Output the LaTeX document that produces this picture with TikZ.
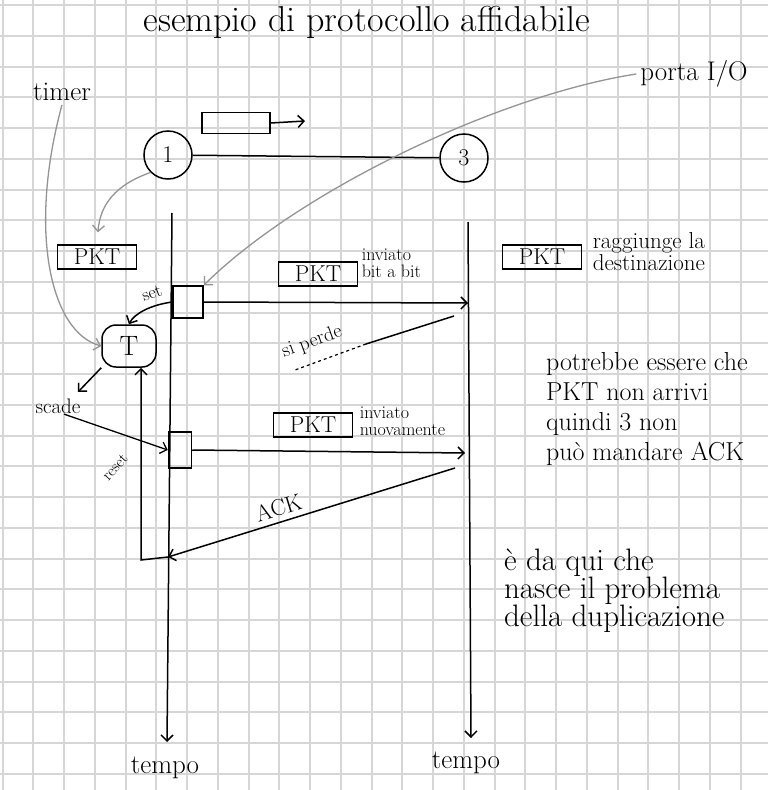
\documentclass[tikz,border=0pt]{standalone}
\usepackage{amssymb}
\usepackage{amsmath}
\usepackage{tikz}
\usetikzlibrary{calc, arrows.meta}

\begin{document}
\begin{tikzpicture}[x=1pt, y=-1pt,
   >={Straight Barb[length=6pt,width=12pt]}, line width=1.5pt,
   gridline/.style = {black!16, line width=2pt},
   hand/.style = {font=\fontsize{27}{30}\selectfont},
   note/.style = {font=\fontsize{18}{17}\selectfont, align=left, inner sep=0pt},
   station/.style = {draw, circle, minimum size=48pt, inner sep=0pt, font=\fontsize{24}{24}\selectfont},
   pkt/.style = {draw, minimum width=79pt, minimum height=24pt, inner sep=0pt, font=\fontsize{23}{23}\selectfont},
   sendbox/.style = {draw, inner sep=0pt},
   hint/.style = {black!42, line width=1.3pt}]
   \useasboundingbox (0,0) rectangle (768,790);
   \fill[white] (0,0) rectangle (768,790);
   \foreach \k [evaluate=\k as \gx using {round(2.7+30.75*\k)}] in {0,...,24}
     \draw[gridline] (\gx,0) -- (\gx,790);
   \foreach \k [evaluate=\k as \gy using {round(5.2+30.75*\k)}] in {0,...,25}
     \draw[gridline] (0,\gy) -- (768,\gy);

   \node[hand, font=\fontsize{36}{36}\selectfont] (title) at (367,22) {esempio di protocollo affidabile};
   \node[hand] (timer) at (62,92) {timer};
   \node[hand] (porta) at (694,74) {porta I/O};

   % le due stazioni
   \node[station] (n1) at (168,155) {1};
   \node[station] (n3) at (464,158) {3};
   \draw (n1) -- (n3);
   \node[draw, minimum width=68pt, minimum height=21pt, inner sep=0pt] (moving) at (236,123) {};
   \coordinate (movend) at (305,121);
   \draw[->] (moving.east) -- (movend);

   % linee del tempo
   \coordinate (top1) at (172,213);
   \coordinate (bot1) at (167,742);
   \coordinate (top3) at (468,222);
   \coordinate (bot3) at (471,738);
   \draw[->] (top1) -- (bot1);
   \draw[->] (top3) -- (bot3);
   \node[hand] (tempo1) at (165,768) {tempo};
   \node[hand] (tempo3) at (466,763) {tempo};

   \node[pkt] (pktA) at (97,257) {PKT};
   \node[pkt] (pktB) at (318,274) {PKT};
   \node[note, anchor=west] (bitabit) at (361,263) {inviato\\bit a bit};
   \node[pkt] (pktC) at (542,257) {PKT};
   \node[note, font=\fontsize{23}{22}\selectfont, anchor=west] (arriva) at (592,252) {raggiunge la\\destinazione};
   \node[pkt] (pktD) at (313,425) {PKT};
   \node[note, anchor=west] (dinuovo) at (359,421) {inviato\\nuovamente};

   \node[sendbox, minimum width=30pt, minimum height=32pt] (sendA) at (188,302) {};
   \node[sendbox, minimum width=23pt, minimum height=36pt] (sendB) at (180,450) {};
   \node[draw, rounded corners=14pt, minimum width=54pt, minimum height=42pt, inner sep=0pt,
         font=\fontsize{28}{28}\selectfont] (T) at (129,346) {T};

   \coordinate (rx1) at (468,303);
   \coordinate (rx2) at (465,453);
   \draw[->] (sendA.east) -- (rx1);
   \draw[->] (sendB.east) -- (rx2);

   % pacchetto perso
   \coordinate (lostS) at (454,316);
   \coordinate (lostM) at (366,344);
   \coordinate (lostE) at (295,370);
   \draw (lostS) -- (lostM);
   \draw[dashed, line width=1.2pt] (lostM) -- (lostE);
   \node[note, font=\fontsize{20}{20}\selectfont, rotate=20] (perde) at (312,342) {si perde};

   \coordinate (ackS) at (455,468);
   \coordinate (ackE) at (168,557);
   \draw[->] (ackS) -- node[pos=0.6, above=2pt, sloped, font=\fontsize{23}{23}\selectfont] (ack) {ACK} (ackE);

   % timer
   \draw[->] (sendA.west) .. controls (150,305) and (134,314) .. (T.north)
     node[pos=0.3, above=7pt, note, font=\fontsize{18}{18}\selectfont, rotate=20] (set) {set};
   \coordinate (scadeTip) at (78,392);
   \draw[->] (T.south west) -- (scadeTip);
   \node[note, font=\fontsize{21}{21}\selectfont] (scade) at (58,406) {scade};
   \draw[->, line width=1.3pt] ([xshift=6pt]scade.south) -- (sendB.west);
   \coordinate (resetC) at (141,560);
   \draw[->] (ackE) -- (resetC) -- (resetC |- T.south);
   \node[note, font=\fontsize{16}{16}\selectfont, rotate=48] (reset) at (115,467) {reset};

   % frecce grigie
   \draw[hint, ->] (timer.south) .. controls (28,230) and (50,332) .. (T.west);
   \draw[hint, ->, shorten >=12pt] (n1.south west) .. controls (115,185) and (100,205) .. (pktA.north);
   \draw[hint, ->] (porta.west) .. controls (500,95) and (300,190) .. (sendA.north east);

   \node[hand, font=\fontsize{26}{30}\selectfont, align=left, anchor=north west] (maybe) at (542,348)
     {potrebbe essere che\\PKT non arrivi\\quindi 3 non\\può mandare ACK};
   \node[hand, font=\fontsize{31}{28}\selectfont, align=left, anchor=north west] (problema) at (500,545)
     {è da qui che\\nasce il problema\\della duplicazione};
\end{tikzpicture}
\end{document}
